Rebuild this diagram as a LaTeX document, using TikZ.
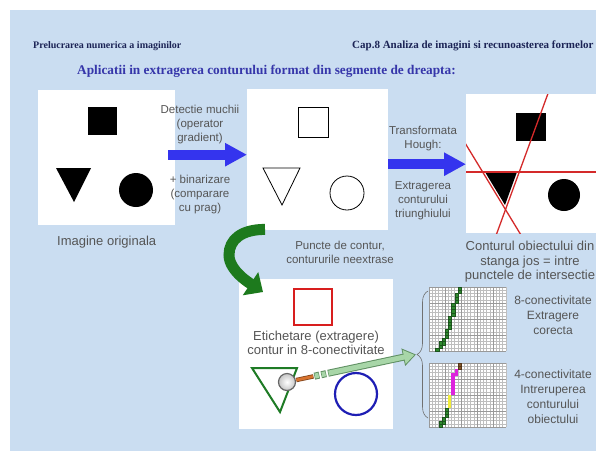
\documentclass[tikz,border=0pt]{standalone}
\usepackage{fontspec}
\setmainfont{Liberation Serif}
\setsansfont{Liberation Sans}
\usetikzlibrary{arrows.meta,positioning,calc,decorations.pathreplacing}
\definecolor{slideblue}{HTML}{CADDF1}
\definecolor{headnavy}{HTML}{1C2456}
\definecolor{titleblue}{HTML}{3636AA}
\definecolor{captiongray}{HTML}{555555}
\definecolor{arrowblue}{HTML}{3434EE}
\definecolor{turngreen}{HTML}{1D7A1D}
\definecolor{houghred}{HTML}{D42A2A}
\definecolor{tagred}{HTML}{D81E1E}
\definecolor{taggreen}{HTML}{1E7B25}
\definecolor{tagblue}{HTML}{1E1EB4}
\definecolor{pointerfill}{HTML}{A8D6A8}
\definecolor{pointeredge}{HTML}{5F8F62}
\definecolor{handleorange}{HTML}{D8732E}
\definecolor{gridgray}{HTML}{BEBEBE}
\definecolor{bracegray}{HTML}{707070}
\definecolor{pixgreen}{HTML}{2E8B2E}
\definecolor{pixyellow}{HTML}{F0EC3A}
\definecolor{pixmagenta}{HTML}{DD22DD}
\definecolor{pixbrown}{HTML}{8A5A2A}

% fine pixel grid, 24 x 20 cells of 3.2pt, drawn at the scope origin
\newcommand{\pixgrid}{%
  \fill[white] (0,0) rectangle (76.8,64);
  \foreach \i in {0,...,24} \draw[gridline] (\i*3.2,0) -- ++(0,64);
  \foreach \j in {0,...,20} \draw[gridline] (0,\j*3.2) -- ++(76.8,0);
  \foreach \i in {0,5,...,20} \draw[gridmajor] (\i*3.2,0) -- ++(0,64);
  \foreach \j in {0,5,...,20} \draw[gridmajor] (0,\j*3.2) -- ++(76.8,0);
}

\begin{document}
\begin{tikzpicture}[x=1pt,y=-1pt,
  panel/.style={fill=white,inner sep=0,anchor=north west},
  caption/.style={font=\sffamily\fontsize{11.5}{14}\selectfont,text=captiongray,align=center,inner sep=0},
  bigcaption/.style={caption,font=\sffamily\fontsize{13}{14.5}\selectfont},
  header/.style={anchor=base west,inner sep=0,text=headnavy,font=\bfseries\fontsize{10}{12}\selectfont},
  bluearr/.style={line width=10pt,arrowblue,-{Triangle[length=22pt,width=22pt]}},
  turnarr/.style={line width=11pt,turngreen,-{Triangle[length=15pt,width=27pt]}},
  edgeshape/.style={draw=black,line width=0.8pt},
  houghline/.style={houghred,line width=1.3pt},
  gridline/.style={gridgray,line width=0.3pt},
  gridmajor/.style={gray!80,line width=0.4pt},
  pix/.style={line width=0.2pt}
]
  % slide background
  \fill[white] (0,0) rectangle (596,451);
  \fill[slideblue] (10,10) rectangle (596,451);
  \useasboundingbox (0,0) rectangle (596,451);

  \node[header] (course) at (33,48.5) {Prelucrarea numerica a imaginilor};
  \node[header,font=\bfseries\fontsize{11}{12}\selectfont] (chapter) at (352,48.5)
    {Cap.8 Analiza de imagini si recunoasterea formelor};
  \node[anchor=base west,inner sep=0,text=titleblue,font=\bfseries\fontsize{13.3}{15}\selectfont]
    (title) at (77,74.5) {Aplicatii in extragerea conturului format din segmente de dreapta:};

  % the four image panels
  \node[panel,minimum width=137pt,minimum height=135pt] (orig) at (38,90) {};
  \node[panel,minimum width=141pt,minimum height=141pt] (edges) at (247,89) {};
  \node[panel,minimum width=130pt,minimum height=139pt] (hough) at (466,94) {};
  \node[panel,minimum width=154pt,minimum height=150pt] (tagged) at (239,279) {};

  % original image
  \fill (88,107) rectangle (117,135);
  \fill (56,168) -- (91,168) -- (74,202) -- cycle;
  \fill (136,190) circle[radius=17];

  % contour points
  \draw[edgeshape] (298,107) rectangle (328,137);
  \draw[edgeshape] (263,168) -- (300,168) -- (282,205) -- cycle;
  \draw[edgeshape] (347,193) circle[radius=17];

  % Hough lines over the original
  \fill (516,113) rectangle (546,141);
  \fill (485,172) -- (517,172) -- (505,205) -- cycle;
  \fill (564,195) circle[radius=16];
  \begin{scope}
    \clip (hough.north west) rectangle (hough.south east);
    \draw[houghline] (462,172) -- (600,172);
    \draw[houghline] (462,138) -- (524,240);
    \draw[houghline] (550,88) -- (494,241);
  \end{scope}

  % labelled contours
  \draw[tagred,line width=2pt] (294,289) rectangle (332,325);
  \draw[taggreen,line width=2pt] (252,368) -- (297,368) -- (280,412) -- cycle;
  \draw[tagblue,line width=2.2pt] (356,394) circle[radius=21];

  % pixel grids
  \begin{scope}[shift={(429,287)}]
    \pixgrid
    \foreach \c/\r in {9/0,9/1,8/2,8/3,8/4,7/5,7/6,7/7,7/8,6/9,6/10,6/11,6/12,5/13,5/14,5/15,4/16,4/17,3/17,3/18,2/19}
      \filldraw[pix,fill=pixgreen,draw=pixgreen!60!black] (\c*3.2,\r*3.2) rectangle ++(3.2,3.2);
  \end{scope}
  \begin{scope}[shift={(429,363)}]
    \pixgrid
    \foreach \c/\r in {9/0,9/1}
      \filldraw[pix,fill=pixbrown,draw=pixbrown!60!black] (\c*3.2,\r*3.2) rectangle ++(3.2,3.2);
    \foreach \c/\r in {8/2,8/3,7/3,7/4,7/5,7/6,7/7,7/8,7/9}
      \fill[pixmagenta] (\c*3.2,\r*3.2) rectangle ++(3.2,3.2);
    \foreach \c/\r in {6/10,6/11,6/12,6/13}
      \fill[pixyellow] (\c*3.2,\r*3.2) rectangle ++(3.2,3.2);
    \foreach \c/\r in {5/14,5/15,5/16,4/17,4/18,3/18,3/19}
      \filldraw[pix,fill=pixgreen,draw=pixgreen!60!black] (\c*3.2,\r*3.2) rectangle ++(3.2,3.2);
  \end{scope}

  % brace grouping both grids
  \coordinate (bracetip) at (416,354.5);
  \draw[bracegray,line width=0.6pt,decorate,decoration={brace,amplitude=11pt}] (428,418) -- (428,291);

  % arrows between the panels
  \draw[bluearr] ([shift={(-7pt,3pt)}]orig.east) -- ([yshift=3pt]orig.east -| edges.west);
  \draw[bluearr] ([yshift=-4.5pt]edges.east) -- ([yshift=-4.5pt]edges.east -| hough.west);
  \coordinate (bend) at (229,255);
  \draw[turnarr] ([shift={(18pt,1pt)}]edges.south west) .. controls +(-24,0) and +(0,-15) .. (bend)
    .. controls +(0,16) and +(-12,-8) .. ([shift={(24pt,-13pt)}]tagged.north west);

  % magnifier and pointer to the grids
  \node[circle,draw=gray!80!black,line width=1.2pt,inner color=white,outer color=gray!45,
        minimum size=17pt,inner sep=0] (lens) at (287,382) {};
  \draw[handleorange!60!black,line width=4.4pt] ($(lens)!9.5pt!(bracetip)$) -- ($(lens)!27pt!(bracetip)$);
  \draw[handleorange,line width=2.8pt] ($(lens)!9.5pt!(bracetip)$) -- ($(lens)!26.5pt!(bracetip)$);
  \draw[pointeredge,line width=7pt,dash pattern=on 5pt off 2pt on 5pt off 2pt on 300pt,
        -{Triangle[length=13pt,width=17pt]}] ($(lens)!28pt!(bracetip)$) -- (bracetip);
  \draw[pointerfill,line width=5pt,dash pattern=on 3.8pt off 3.2pt on 3.8pt off 3.2pt on 300pt,
        shorten <=0.6pt,shorten >=1.6pt,-{Triangle[length=10.5pt,width=13.5pt]}]
        ($(lens)!28pt!(bracetip)$) -- (bracetip);

  % captions
  \node[bigcaption,below=10pt of orig] (origcap) {Imagine originala};
  \node[caption] (gradtxt) at (200,124.5) {Detectie muchii\\(operator\\gradient)};
  \node[caption] (bintxt) at (200,194.5) {+ binarizare\\(comparare\\cu prag)};
  \node[caption] (edgecap) at (340,252.4) {Puncte de contur,\\contururile neextrase};
  \node[caption] (houghtxt) at (423,138.5) {Transformata\\Hough:};
  \node[caption] (extrtxt) at (423,200.5) {Extragerea\\conturului\\triunghiului};
  \node[bigcaption] (houghcap) at (530,262) {Conturul obiectului din\\stanga jos = intre\\punctele de intersectie};
  \node[bigcaption,font=\sffamily\fontsize{13}{14}\selectfont] (tagcap) at (316,342.4)
    {Etichetare (extragere)\\contur in 8-conectivitate};
  \node[caption,font=\sffamily\fontsize{12}{15}\selectfont] (eighttxt) at (553,315.2)
    {8-conectivitate\\Extragere\\corecta};
  \node[caption,font=\sffamily\fontsize{12}{15}\selectfont] (fourtxt) at (553,396.7)
    {4-conectivitate\\Intreruperea\\conturului\\obiectului};
\end{tikzpicture}
\end{document}
